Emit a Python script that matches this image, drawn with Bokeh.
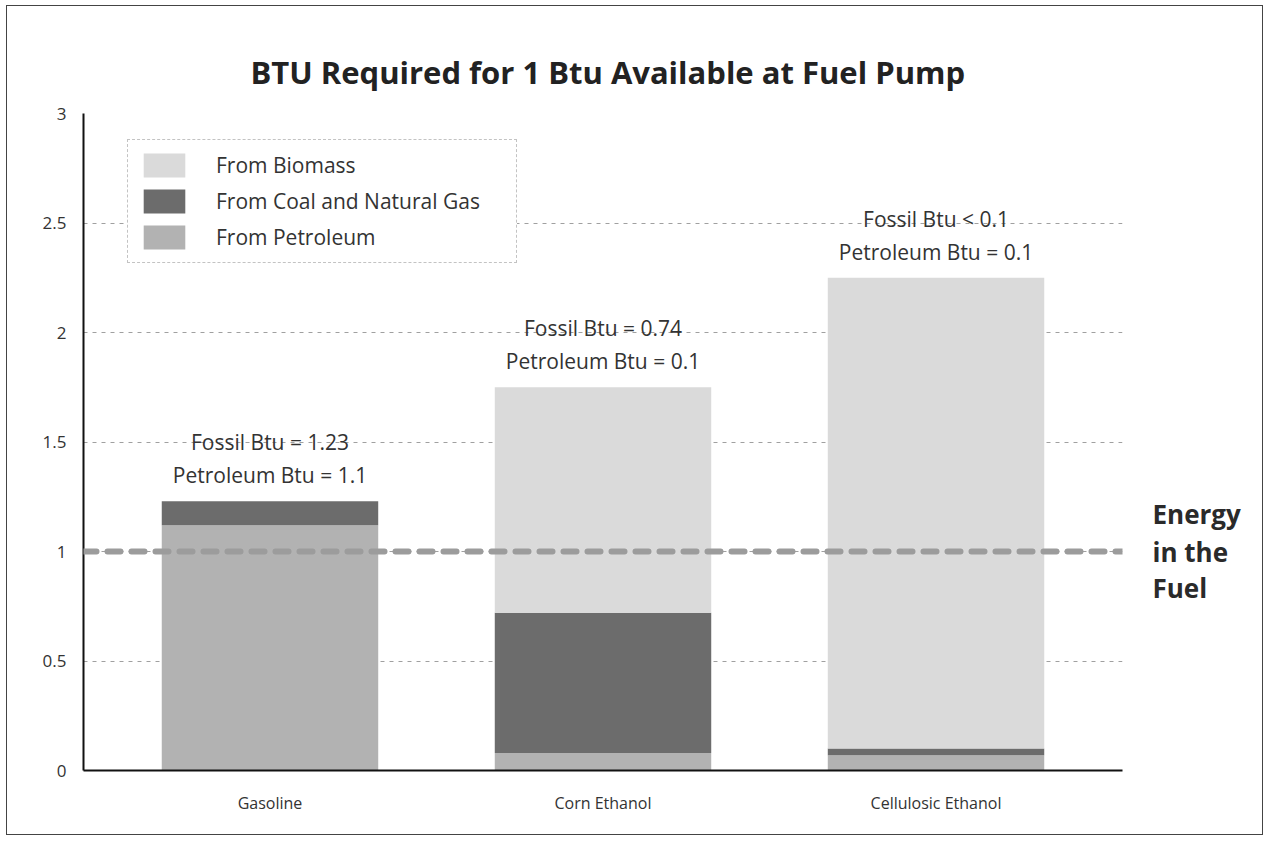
from bokeh.plotting import figure
from bokeh.models import (ColumnDataSource, Span, Legend, LegendItem, FactorRange,
                          Range1d, FixedTicker, LinearAxis)
from bokeh.core.properties import value
from bokeh.embed import file_html
from bokeh.resources import INLINE

# ---------------- data ----------------
categories = ["Gasoline", "Corn Ethanol", "Cellulosic Ethanol"]
petroleum = [1.12, 0.08, 0.07]
coal_gas = [0.11, 0.64, 0.03]
biomass = [0.0, 1.03, 2.15]
series_names = ["From Petroleum", "From Coal and Natural Gas", "From Biomass"]
fossil_labels = ["Fossil Btu = 1.23", "Fossil Btu = 0.74", "Fossil Btu < 0.1"]
petroleum_labels = ["Petroleum Btu = 1.1", "Petroleum Btu = 0.1", "Petroleum Btu = 0.1"]
y_ticks = [0, 0.5, 1, 1.5, 2, 2.5, 3]
y_tick_labels = ["0", "0.5", "1", "1.5", "2", "2.5", "3"]
energy_level = 1
energy_label = ["Energy", "in the", "Fuel"]
title_text = "BTU Required for 1 Btu Available at Fuel Pump"

# ---------------- styles ----------------
bar_width = 0.65
colors = ["#b2b2b2", "#6c6c6c", "#dadada"]
FONT = "Open Sans"
TXT = "#333333"
energy_label_shift = [0.17, 0.0, -0.165]   # data-unit offsets of the three label lines

W, H = 1257, 830

totals = [a + b + c for a, b, c in zip(petroleum, coal_gas, biomass)]
source = ColumnDataSource(dict(
    cat=categories,
    petroleum=petroleum,
    coal_gas=coal_gas,
    biomass=biomass,
    total=totals,
    fossil=fossil_labels,
    petrol=petroleum_labels,
))

p = figure(
    x_range=FactorRange(*categories, range_padding=0.06, range_padding_units="absolute"),
    y_range=Range1d(0, 3),
    width=W, height=H,
    output_backend="svg",
    toolbar_location=None,
    min_border_left=76, min_border_right=142,
    min_border_top=107, min_border_bottom=66,
)
p.outline_line_color = None
p.background_fill_color = "white"
p.border_fill_color = "white"

# title
p.title.text = title_text
p.title.text_font = FONT
p.title.text_font_size = "31px"
p.title.text_font_style = "bold"
p.title.text_color = "#222222"
p.title.align = "left"
p.title.offset = 167
p.title.standoff = 42

renderers = p.vbar_stack(
    ["petroleum", "coal_gas", "biomass"], x="cat", width=bar_width,
    color=colors, line_color=None, source=source,
)

# labels above bars
p.text(x="cat", y="total", text="fossil", source=source, y_offset=-59,
       text_align="center", text_baseline="middle",
       text_font=value(FONT), text_font_size="21px", text_color=TXT)
p.text(x="cat", y="total", text="petrol", source=source, y_offset=-26,
       text_align="center", text_baseline="middle",
       text_font=value(FONT), text_font_size="21px", text_color=TXT)

# energy in the fuel line
p.add_layout(Span(location=energy_level, dimension="width", line_color="#9c9c9c",
                  line_width=6, line_dash="13 11", line_cap="round"))

# "Energy in the Fuel" label, drawn as right-side axis labels
energy_ticks = [energy_level + s for s in energy_label_shift]
right = LinearAxis(ticker=FixedTicker(ticks=energy_ticks),
                   major_label_overrides={t: l for t, l in zip(energy_ticks, energy_label)})
right.axis_line_color = None
right.major_tick_line_color = None
right.minor_tick_line_color = None
right.major_label_standoff = 24
right.major_label_text_font = FONT
right.major_label_text_font_size = "26px"
right.major_label_text_font_style = "bold"
right.major_label_text_color = "#2a2a2a"
p.add_layout(right, "right")

# axes
p.yaxis[0].ticker = FixedTicker(ticks=y_ticks)
p.yaxis[0].major_label_overrides = {t: l for t, l in zip(y_ticks, y_tick_labels)}
for ax in (p.xaxis[0], p.yaxis[0]):
    ax.axis_line_width = 2
    ax.axis_line_color = "#111111"
    ax.major_tick_line_color = None
    ax.minor_tick_line_color = None
    ax.major_label_text_font = FONT
    ax.major_label_text_font_size = "17px"
    ax.major_label_text_color = TXT
p.yaxis[0].major_label_standoff = 11
p.xaxis[0].major_label_standoff = 15
p.xaxis[0].major_label_text_font_size = "16px"

p.xgrid.grid_line_color = None
p.ygrid.grid_line_color = "#a0a0a0"
p.ygrid.grid_line_dash = "4 5"
p.ygrid.grid_line_width = 1

legend = Legend(
    items=[LegendItem(label=series_names[2], renderers=[renderers[2]]),
           LegendItem(label=series_names[1], renderers=[renderers[1]]),
           LegendItem(label=series_names[0], renderers=[renderers[0]])],
    location=(44, 507),
    glyph_width=52, glyph_height=30, label_standoff=26, spacing=6,
    padding=10, margin=0, label_width=290,
    label_text_font=FONT, label_text_font_size="21px", label_text_color=TXT,
    border_line_color="#888888", border_line_dash="2 2", border_line_width=1,
    background_fill_color="white", background_fill_alpha=1.0,
)
p.add_layout(legend)

p.styles = {"border": "1px solid #444444", "margin-left": "6px", "margin-top": "5px"}

open("out.html", "w").write(file_html(p, INLINE))
